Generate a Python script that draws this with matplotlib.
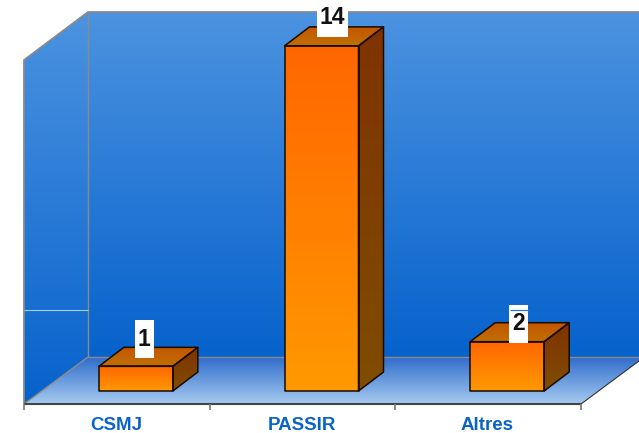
import numpy as np
import matplotlib
matplotlib.use("Agg")
import matplotlib.pyplot as plt
from matplotlib.patches import Polygon, Rectangle
from matplotlib.colors import LinearSegmentedColormap

plt.rcParams['font.family'] = ['Liberation Sans', 'DejaVu Sans']

categories = ["CSMJ", "PASSIR", "Altres"]
values = [1, 14, 2]
value_labels = ["1", "14", "2"]

W, H = 639, 433
X0_PX, CAT_PX = 24.0, 185.67     # front-plane left edge, width of one category
Y0_PX, VAL_PX = 391.0, 24.65     # bar base line, height of one unit
BAR_W = 74 / CAT_PX
BAR_SHIFT = 19 / CAT_PX          # bars sit behind the front plane
DEPTH_X, DEPTH_Y = 25 / CAT_PX, 19 / VAL_PX
LABEL_DX = [8.5, 11, 11.5]       # pixel offset from bar centre
LABEL_CY = [339, 18, 324]        # pixel centre of label box

fig = plt.figure(figsize=(W / 100, H / 100), dpi=100, facecolor="white")
ax = fig.add_axes([0, 0, 1, 1])
ax.set_xlim(-X0_PX / CAT_PX, (W - X0_PX) / CAT_PX)
ax.set_ylim(-(H - Y0_PX) / VAL_PX, Y0_PX / VAL_PX)
ax.axis("off")


def dx(px):
    return (px - X0_PX) / CAT_PX


def dy(py):
    return (Y0_PX - py) / VAL_PX


def P(pts):
    return [(dx(a), dy(b)) for a, b in pts]


def grad(poly, c_top, c_bot, zorder):
    """Fill polygon (data coords) with a vertical gradient."""
    xs, ys = zip(*poly)
    cmap = LinearSegmentedColormap.from_list("g", [c_top, c_bot])
    im = ax.imshow(np.linspace(0, 1, 256).reshape(-1, 1), cmap=cmap, aspect="auto",
                   extent=(min(xs), max(xs), min(ys), max(ys)), origin="upper",
                   zorder=zorder, interpolation="bilinear")
    clip = Polygon(poly, closed=True, transform=ax.transData)
    im.set_clip_path(clip)
    return im


WALL_T, WALL_B = "#4C93E0", "#0662CC"
GREY = "#8A8A8A"

# left wall, back wall, floor
grad(P([(24, 60), (88, 12), (88, 357), (24, 404)]), WALL_T, WALL_B, 1)
grad(P([(88, 12), (639, 12), (639, 357), (88, 357)]), WALL_T, WALL_B, 1)
grad(P([(24, 404), (88, 357), (639, 357), (639, 361), (581, 404)]), "#2F6CCB", "#A6CBF0", 1)


def seg(pts, color, lw, z=2):
    q = P(pts)
    ax.plot(*zip(*q), color=color, lw=lw, zorder=z, solid_capstyle="butt")


seg([(24, 404), (24, 60), (88, 12), (639, 12)], GREY, 1.3)
seg([(88, 12), (88, 357), (639, 357)], GREY, 1.0)
seg([(88, 357), (24, 404)], GREY, 1.0)
seg([(24, 309.5), (88, 309.5)], "#A8CDF2", 0.8)
seg([(581, 404), (639, 361)], "#333333", 0.8)
seg([(24, 404), (581, 404)], "#444444", 1.5)
for i in range(len(categories) + 1):
    ax.plot([i, i], [dy(404), dy(410)], color="#777777", lw=1.2, zorder=2, solid_capstyle="butt")

EDGE = dict(closed=True, fill=False, edgecolor="#1a0a00", lw=1.1, joinstyle="round")

for i, (cat, v) in enumerate(zip(categories, values)):
    left = i + 0.5 - BAR_W / 2 + BAR_SHIFT
    right = left + BAR_W
    z = 3 + i
    front = [(left, 0), (right, 0), (right, v), (left, v)]
    top = [(left, v), (right, v), (right + DEPTH_X, v + DEPTH_Y), (left + DEPTH_X, v + DEPTH_Y)]
    side = [(right, 0), (right + DEPTH_X, DEPTH_Y), (right + DEPTH_X, v + DEPTH_Y), (right, v)]
    grad(front, "#FF6600", "#FF9900", z)
    grad(top, "#C45600", "#BF7000", z)
    grad(side, "#7F3300", "#7F4D00", z)
    for poly in (front, top, side):
        ax.add_patch(Polygon(poly, zorder=z + 0.1, **EDGE))

    # tick label
    ax.text(i + 0.5 - 1 / CAT_PX, dy(425), cat, ha="center", va="center", fontsize=13.5,
            fontweight="bold", color="#0A64C8", zorder=10)

    # value label on a white box
    cx = dx((left + BAR_W / 2) * CAT_PX + X0_PX + LABEL_DX[i])
    cy = dy(LABEL_CY[i])
    half_w = (31 if len(value_labels[i]) > 1 else 19) / 2 / CAT_PX
    half_h = 19 / VAL_PX
    ax.add_patch(Rectangle((cx - half_w, cy - half_h), 2 * half_w, 2 * half_h,
                           facecolor="white", edgecolor="none", zorder=20))
    ax.text(cx, cy, value_labels[i], ha="center", va="center", fontsize=16.5,
            fontweight="bold", color="#111111", zorder=21)

# gridline that shows through the last label box
seg([(510, 309.5), (529, 309.5)], "#2F78D0", 0.9, z=22)

ax.set_xlim(-X0_PX / CAT_PX, (W - X0_PX) / CAT_PX)
ax.set_ylim(-(H - Y0_PX) / VAL_PX, Y0_PX / VAL_PX)
fig.savefig("out.png", dpi=100, facecolor="white")
